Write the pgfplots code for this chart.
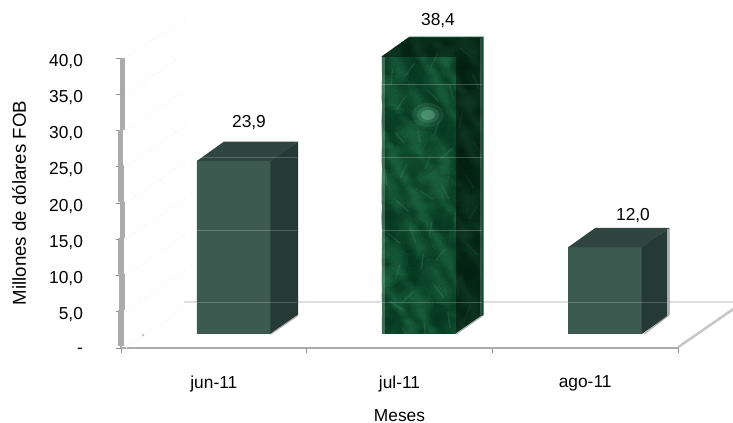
\documentclass[border=0pt]{standalone}
\usepackage{pgfplots}
\pgfplotsset{compat=1.18}
\usepackage{fontspec}
\setmainfont{Liberation Sans}
\definecolor{front}{HTML}{3C5A50}
\definecolor{side}{HTML}{263A35}
\definecolor{topf}{HTML}{2E463F}
\definecolor{axg}{HTML}{ABABAB}
\definecolor{marble}{HTML}{0E4A2C}
\definecolor{mdark}{HTML}{022A16}
\definecolor{mmid}{HTML}{2E8058}
\definecolor{mlight}{HTML}{6DB392}
\begin{document}
\begin{tikzpicture}[x=1pt,y=1pt]
\path[use as bounding box] (0,0) rectangle (549.75pt,317.25pt);
\begin{axis}[
  at={(90.75pt,56.25pt)}, anchor=south west,
  scale only axis, width=417.75pt, height=217.5pt,
  xmin=-0.5, xmax=2.5, ymin=0, ymax=40,
  clip=false,
  axis x line*=bottom, axis y line*=left,
  axis line style={draw=axg, line width=1.5pt, -},
  x axis line style={-}, y axis line style={-},
  xtick={0,1,2}, xticklabels={jun-11,jul-11,ago-11},
  minor xtick={-0.5,0.5,1.5,2.5},
  major x tick style={draw=none},
  minor x tick style={draw=gray!90, line width=0.7pt},
  minor tick length=4pt,
  ytick={0,5,...,40},
  yticklabels={-,{5,0},{10,0},{15,0},{20,0},{25,0},{30,0},{35,0},{40,0}},
  y tick style={draw=gray!90, line width=0.7pt},
  major tick length=4pt,
  tick align=outside,
  tick label style={font=\fontsize{13}{15}\selectfont, text=black},
  xticklabel style={yshift=-13.25pt},
  yticklabel style={yshift=-2.3pt, xshift=-21pt},
  xlabel={Meses}, ylabel={Millones de dólares FOB},
  xlabel style={font=\fontsize{13}{13}\selectfont, inner sep=0pt, at={(axis description cs:0.5,0)}, anchor=center, yshift=-50.5pt},
  ylabel style={font=\fontsize{14}{16}\selectfont, at={(axis description cs:-0.183,0.5)}, anchor=center},
]
% floor back line
\addplot[draw=black!13, line width=1.9pt, forget plot] coordinates {(-0.159,6.34) (2.80,6.34)};
% floor right edge
\addplot[draw=black!22, line width=1.9pt, forget plot] coordinates {(2.5,0.1) (2.80,5.4)};
% bars: front faces
\addplot[ybar, bar width=55.5pt, bar shift=0pt, fill=front, draw=none, xshift=15pt, yshift=10.5pt] coordinates {(0,23.9) (2,12.0)};
\addplot[ybar, bar width=55.5pt, bar shift=0pt, fill=marble, draw=none, xshift=15pt, yshift=10.5pt] coordinates {(1,38.4)};
% side faces
\addplot[fill=side, draw=none, xshift=15pt, yshift=10.5pt] coordinates {(0.197,0) (0.346,2.62) (0.346,26.52) (0.197,23.9)} --cycle;
\addplot[fill=side, draw=none, xshift=15pt, yshift=10.5pt] coordinates {(2.197,0) (2.346,2.62) (2.346,14.62) (2.197,12.0)} --cycle;
\addplot[fill=marble, draw=none, xshift=15pt, yshift=10.5pt] coordinates {(1.197,0) (1.346,2.62) (1.346,41.02) (1.197,38.4)} --cycle;
% top faces
\addplot[fill=topf, draw=none, xshift=15pt, yshift=10.5pt] coordinates {(-0.2,23.85) (0.2,23.85) (0.346,26.52) (-0.054,26.52)} --cycle;
\addplot[fill=topf, draw=none, xshift=15pt, yshift=10.5pt] coordinates {(1.8,11.95) (2.2,11.95) (2.346,14.62) (1.946,14.62)} --cycle;
\addplot[fill=marble, draw=none, xshift=15pt, yshift=10.5pt] coordinates {(0.8,38.35) (1.2,38.35) (1.346,41.02) (0.946,41.02)} --cycle;
\end{axis}
% pixel-space decoration (top-left origin)
\begin{scope}[shift={(0,317.25pt)}, x=0.75pt, y=-0.75pt]
% wobble of the y axis
\draw[axg, line width=4.2pt] (122.5,58) -- (122.5,130);
\draw[axg, line width=4.2pt] (120.5,130) -- (120.5,165);
\draw[axg, line width=4.2pt] (121,165) -- (121,202);
\draw[axg, line width=4.2pt] (122.5,202) -- (122.5,238);
\draw[axg, line width=4.2pt] (121,238) -- (121,274);
\draw[axg, line width=4.2pt] (122,274) -- (122,310);
\draw[axg, line width=4.2pt] (121,310) -- (121,346);
% faint wall diagonals
\foreach \yy in {58,94.25,130.5,166.75,203,239.25,275.5,311.75,348}
  \draw[black!6, dotted, line width=0.8pt] (126,\yy) -- (187,\yy-42);
\fill[black!30] (143,335) circle (1.2);
% marble texture of the jul bar
\begin{scope}
\clip (381,57) -- (408,38) -- (482,38) -- (482,315) -- (456,334) -- (381,334) -- cycle;
\foreach \i in {1,...,240}{
  \pgfmathsetmacro\px{381+102*(\i*0.7548777-floor(\i*0.7548777))}
  \pgfmathsetmacro\py{38+296*(\i*0.5698403-floor(\i*0.5698403))}
  \pgfmathsetmacro\rr{6+11*(\i*0.381966-floor(\i*0.381966))}
  \pgfmathsetmacro\ang{180*(\i*0.618034-floor(\i*0.618034))}
  \pgfmathtruncatemacro\kk{mod(\i,5)}
  \ifcase\kk \def\cc{mmid}\or\def\cc{mdark}\or\def\cc{mmid}\or\def\cc{mdark}\or\def\cc{mdark}\fi
  \fill[\cc, opacity=0.12, rotate around={\ang:(\px,\py)}] (\px,\py) ellipse ({\rr} and {\rr*0.65});
  \fill[\cc, opacity=0.12, rotate around={\ang:(\px,\py)}] (\px,\py) ellipse ({\rr*0.7} and {\rr*0.42});
  \fill[\cc, opacity=0.12, rotate around={\ang:(\px,\py)}] (\px,\py) ellipse ({\rr*0.4} and {\rr*0.24});
}
% pale veins
\foreach \i in {1,...,40}{
  \pgfmathsetmacro\px{381+102*(\i*0.4142136-floor(\i*0.4142136))}
  \pgfmathsetmacro\py{38+296*(\i*0.7320508-floor(\i*0.7320508))}
  \pgfmathsetmacro\ang{30+110*(\i*0.618034-floor(\i*0.618034))}
  \draw[mlight, opacity=0.16, line width=1.1pt, line cap=round] (\px,\py) -- ++(\ang:15);
}
\fill[mlight, opacity=0.15] (428,115) ellipse (16 and 12);
\fill[mlight, opacity=0.22] (428,115) ellipse (11 and 8);
\fill[mlight, opacity=0.45] (428,115) ellipse (7 and 5);
\fill[mmid, opacity=0.12] (420,170) ellipse (30 and 40);
\fill[black, opacity=0.42] (456,57) -- (482,38) -- (482,315) -- (456,334) -- cycle;
\fill[black, opacity=0.42] (381,57) -- (408,38) -- (482,38) -- (456,57) -- cycle;
\fill[white, opacity=0.22] (381,57) rectangle (384.5,334);
\fill[white, opacity=0.18] (479.5,38) rectangle (482,315);
\end{scope}
% grid lines showing through the bars
\foreach \yy in {84,157,230,302}{
  \draw[white, opacity=0.22, line width=0.5pt] (381,\yy) -- (482,\yy);
}
\foreach \yy in {157,230,302}{
  \draw[white, opacity=0.2, line width=0.5pt] (197,\yy) -- (297,\yy);
}
\draw[white, opacity=0.2, line width=0.5pt] (567,302) -- (668,302);
% light edges at the bars
\draw[axg, line width=0.9pt] (271,334) -- (297,316);
\draw[axg, line width=0.9pt] (456,334) -- (482,316);
\draw[axg, line width=0.9pt] (644,334) -- (668,316);
\draw[axg, line width=0.9pt] (668,229) -- (668,316);
% data labels
\node[font=\fontsize{13}{15}\selectfont] at (249,123) {23,9};
\node[font=\fontsize{13}{15}\selectfont] at (438,21) {38,4};
\node[font=\fontsize{13}{15}\selectfont] at (633,216) {12,0};
\end{scope}
\end{tikzpicture}
\end{document}
